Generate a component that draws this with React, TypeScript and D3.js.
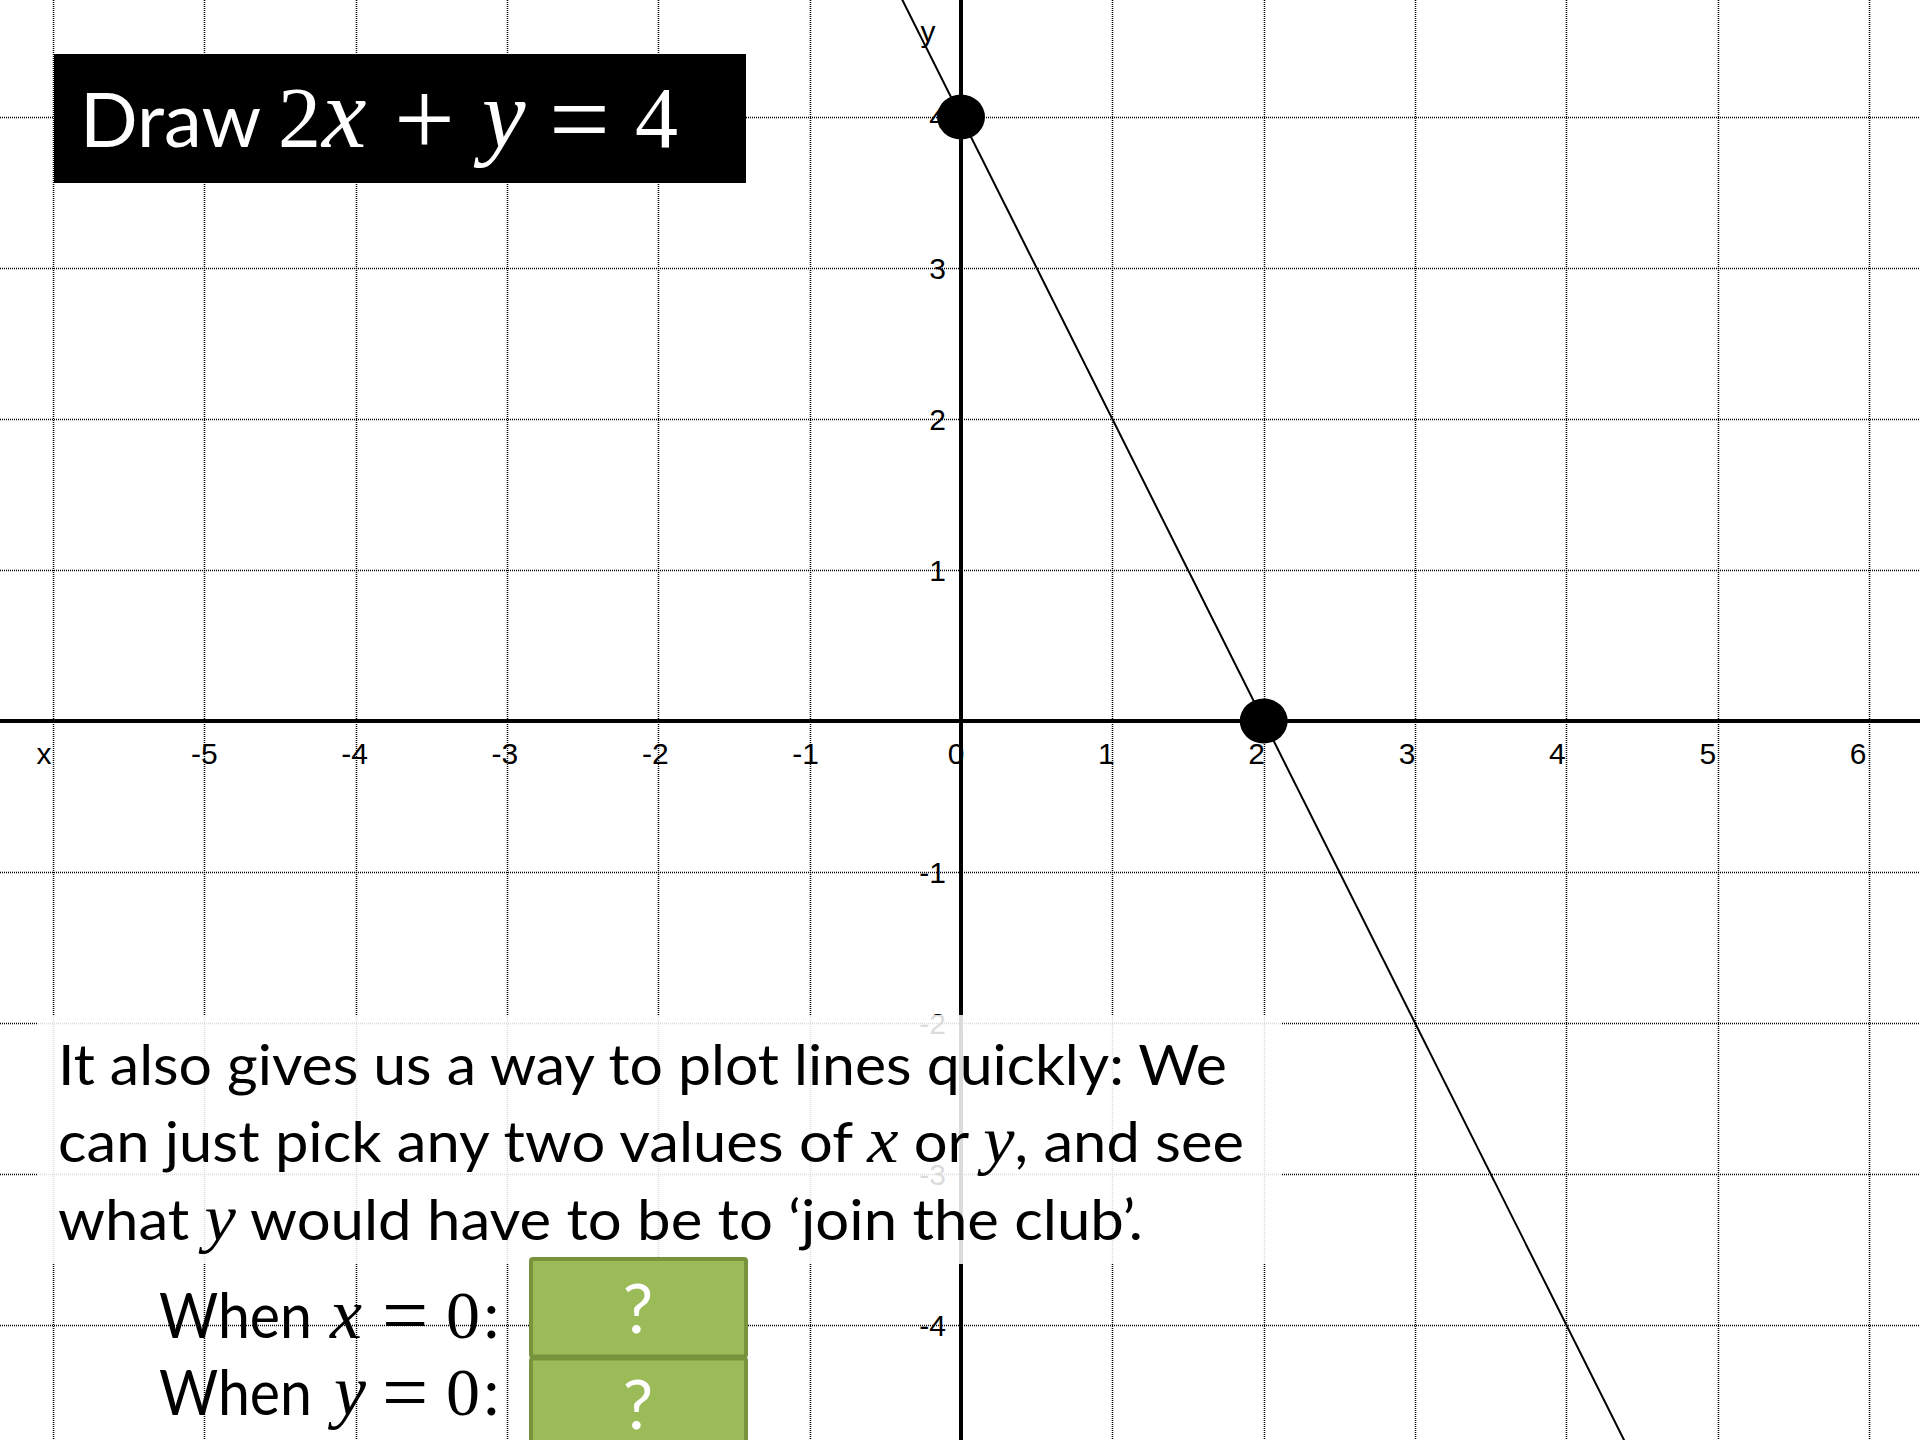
import React from "react";
import * as d3 from "d3";

// ---- data ----
const xGridValues = [-6, -5, -4, -3, -2, -1, 1, 2, 3, 4, 5, 6];
const yGridValues = [-4, -3, -2, -1, 1, 2, 3, 4];
const xTickValues = [-6, -5, -4, -3, -2, -1, 0, 1, 2, 3, 4, 5, 6];
const xTickLabels = ["x", "-5", "-4", "-3", "-2", "-1", "0", "1", "2", "3", "4", "5", "6"];
const yTickValues = [-4, -3, -2, -1, 1, 2, 3, 4];
const yTickLabels = ["-4", "-3", "-2", "-1", "1", "2", "3", "4"];
const lineA = 2; // 2x + y = 4
const lineB = 1;
const lineC = 4;
const lineXRange = [-1, 5];
const pointXs = [0, 2];
const pointYs = [4, 0];

const bodyLine1 = [{ t: "It also gives us a way to plot lines quickly: We", m: false }];
const bodyLine2 = [
  { t: "can just pick any two values of ", m: false },
  { t: "x", m: true },
  { t: " or ", m: false },
  { t: "y", m: true },
  { t: ", and see", m: false },
];
const bodyLine3 = [
  { t: "what ", m: false },
  { t: "y", m: true },
  { t: " would have to be to \u2018join the club\u2019.", m: false },
];
const answerVars = ["x", "y"];
const answerMarks = ["?", "?"];

const W = 1920;
const H = 1440;
const SANS = "Lato, 'Open Sans', sans-serif";
const SERIF = "'Liberation Serif', 'DejaVu Serif', serif";
const AXIS_FONT = "'Liberation Sans', Arial, sans-serif";

export default function App() {
  const x = d3.scaleLinear().domain([-6, 6]).range([52.9, 1869.1]);
  const y = d3.scaleLinear().domain([4, -4]).range([117, 1325]);
  const snap = (v: number) => Math.round(v) + 0.5;

  const lineGen = d3
    .line<number>()
    .x((d) => x(d))
    .y((d) => y((lineC - lineA * d) / lineB));

  const bodyLines = [bodyLine1, bodyLine2, bodyLine3];
  const bodyBaselines = [1085, 1162, 1240];
  const bodyLengths = [1169, 1186, 1085];

  return (
    <svg
      width={W}
      height={H}
      viewBox={`0 0 ${W} ${H}`}
      style={{ position: "absolute", left: 0, top: 0, display: "block", background: "#fff" }}
    >
      <rect x={0} y={0} width={W} height={H} fill="#fff" />
      {/* grid */}
      <g stroke="#000" strokeWidth={1.5} strokeDasharray="1,1" fill="none">
        {xGridValues.map((v) => (
          <line key={"gx" + v} x1={snap(x(v))} x2={snap(x(v))} y1={0} y2={H} />
        ))}
        {yGridValues.map((v) => (
          <line key={"gy" + v} x1={0} x2={W} y1={snap(y(v))} y2={snap(y(v))} />
        ))}
      </g>
      {/* axes */}
      <line x1={0} x2={W} y1={y(0)} y2={y(0)} stroke="#000" strokeWidth={4} />
      <line x1={x(0)} x2={x(0)} y1={0} y2={H} stroke="#000" strokeWidth={4} />
      {/* tick labels */}
      <g fontFamily={AXIS_FONT} fontSize={30} fill="#000">
        {xTickValues.map((v, i) => (
          <text
            key={"tx" + v}
            x={v === -6 ? x(v) - 9 : x(v) - 5 - v}
            y={y(0) + 43}
            textAnchor="middle"
          >
            {xTickLabels[i]}
          </text>
        ))}
        {yTickValues.map((v, i) => (
          <text key={"ty" + v} x={x(0) - 15} y={y(v) + 11} textAnchor="end">
            {yTickLabels[i]}
          </text>
        ))}
        <text x={x(0) - 33} y={42} textAnchor="middle">
          y
        </text>
      </g>
      {/* the line */}
      <path d={lineGen(lineXRange) || ""} stroke="#000" strokeWidth={2} fill="none" />
      {/* points */}
      {pointXs.map((px, i) => (
        <ellipse key={"p" + i} cx={x(px)} cy={y(pointYs[i])} rx={24} ry={22.5} fill="#000" />
      ))}
      {/* title */}
      <rect x={54} y={54} width={692} height={129} fill="#000" />
      <text fill="#fff" fontSize={76}>
        <tspan x={80} y={147} fontFamily={SANS}>Draw</tspan>
        <tspan x={278} y={147} fontFamily={SERIF} fontSize={86}>2</tspan>
        <tspan x={322} y={147} fontFamily={SERIF} fontStyle="italic" fontSize={100}>x</tspan>
        <tspan x={394} y={155} fontFamily={SERIF} fontSize={108}>+</tspan>
        <tspan x={482} y={147} fontFamily={SERIF} fontStyle="italic" fontSize={98}>y</tspan>
        <tspan x={549} y={155} fontFamily={SERIF} fontSize={108}>=</tspan>
        <tspan x={635} y={147} fontFamily={SERIF} fontSize={86}>4</tspan>
      </text>
      {/* translucent panel behind text */}
      <rect x={38} y={1015} width={1243} height={249} fill="#fff" fillOpacity={0.86} />
      {bodyLines.map((segs, li) => (
        <text
          key={"b" + li}
          x={58}
          y={bodyBaselines[li]}
          fontSize={56}
          fill="#000"
          textLength={bodyLengths[li]}
          lengthAdjust="spacingAndGlyphs"
          fontFamily={SANS}
        >
          {segs.map((s, si) =>
            s.m ? (
              <tspan key={si} fontFamily={SERIF} fontStyle="italic" fontSize={66}>
                {s.t}
              </tspan>
            ) : (
              <tspan key={si}>{s.t}</tspan>
            )
          )}
        </text>
      ))}
      {/* When lines */}
      {answerVars.map((v, i) => {
        const base = 1338 + i * 77;
        return (
          <text key={"w" + i} fill="#000" fontSize={62}>
            <tspan x={159} y={base} fontFamily={SANS} textLength={153} lengthAdjust="spacingAndGlyphs">
              When
            </tspan>
            <tspan x={v === "y" ? 334 : 330} y={base} fontFamily={SERIF} fontStyle="italic" fontSize={72}>
              {v}
            </tspan>
            <tspan x={382} y={base + 5} fontFamily={SERIF} fontSize={82}>=</tspan>
            <tspan x={446} y={base} fontFamily={SERIF} fontSize={68}>0</tspan>
            <tspan x={482} y={base} fontFamily={SERIF} fontSize={68}>:</tspan>
          </text>
        );
      })}
      {/* green answer boxes */}
      {answerMarks.map((m, i) => (
        <g key={"g" + i}>
          <rect
            x={531}
            y={1259 + i * 99.5}
            width={215}
            height={97.5}
            rx={2}
            fill="#9BBB59"
            stroke="#77933C"
            strokeWidth={4}
          />
          <text
            x={638}
            y={1333 + i * 96}
            textAnchor="middle"
            fill="#fff"
            fontFamily={SANS}
            fontSize={68}
          >
            {m}
          </text>
        </g>
      ))}
    </svg>
  );
}
